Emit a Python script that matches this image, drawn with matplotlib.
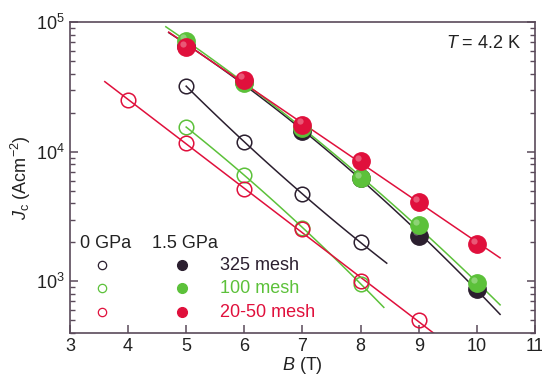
"""
Jc vs B at 4.2 K for different mesh sizes, 0 and 1.5 GPa
"""

import numpy as np
import matplotlib.pyplot as plt
from matplotlib.ticker import LogLocator, NullFormatter

plt.rcParams['font.family'] = ['Liberation Sans', 'DejaVu Sans']
plt.rcParams['mathtext.fontset'] = 'custom'
plt.rcParams['mathtext.rm'] = 'Liberation Sans'
plt.rcParams['mathtext.it'] = 'Liberation Sans:italic'

labels = ['325 mesh', '100 mesh', '20-50 mesh']
colors = ['#2b1f2f', '#5cc13a', '#e0103c']

# 0 GPa (open symbols)
b_open = [[5, 6, 7, 8], [5, 6, 7, 8], [4, 5, 6, 7, 8, 9]]
jc_open = [[32000, 12000, 4700, 2000],
           [15500, 6600, 2600, 960],
           [25000, 11600, 5200, 2520, 1000, 500]]
fit_open = [(5.0, 8.45), (5.0, 8.4), (3.6, 9.4)]
deg_open = [2, 2, 1]

# 1.5 GPa (filled symbols)
b_fill = [[5, 6, 7, 8, 9, 10], [5, 6, 7, 8, 9, 10], [5, 6, 7, 8, 9, 10]]
jc_fill = [[66000, 34400, 14400, 6300, 2250, 880],
           [72000, 34000, 15200, 6300, 2700, 970],
           [64000, 36000, 16200, 8500, 4100, 1950]]
fit_fill = [(4.7, 10.4), (4.65, 10.4), (4.7, 10.4)]
deg_fill = [2, 2, 1]


def fit_line(b, jc, rng, deg):
    p = np.polyfit(b, np.log10(jc), deg)
    x = np.linspace(rng[0], rng[1], 100)
    return x, 10 ** np.polyval(p, x)


if __name__ == "__main__":
    fig = plt.figure(figsize=(5.42, 3.75), dpi=100)
    ax = fig.add_axes([0.129, 0.112, 0.858, 0.829])
    axcol = '#5a4a5a'
    txt = '#222222'
    fs = 13

    for i in range(3):
        x, y = fit_line(b_open[i], jc_open[i], fit_open[i], deg_open[i])
        ax.plot(x, y, color=colors[i], lw=1.1, zorder=2)
        x, y = fit_line(b_fill[i], jc_fill[i], fit_fill[i], deg_fill[i])
        ax.plot(x, y, color=colors[i], lw=1.1, zorder=2)

    for i in range(3):
        ax.plot(b_open[i], jc_open[i], 'o', ms=10.5, mfc='none',
                mec=colors[i], mew=1.1, zorder=3)
        ax.plot(b_fill[i], jc_fill[i], 'o', ms=12.5, mfc=colors[i],
                mec=colors[i], zorder=4 + i)
        # small highlight to mimic the shaded spheres
        ax.plot(np.array(b_fill[i]) - 0.05, np.array(jc_fill[i]) * 1.06, 'o',
                ms=4.5, mfc='white', mec='none', alpha=0.3, zorder=4 + i)

    ax.set_yscale('log')
    ax.set_xlim(3, 11)
    ax.set_ylim(400, 1e5)
    ax.set_xticks(range(3, 12))
    ax.yaxis.set_major_locator(LogLocator(base=10, numticks=10))
    ax.yaxis.set_minor_locator(LogLocator(base=10, subs=np.arange(2, 10), numticks=10))
    ax.yaxis.set_minor_formatter(NullFormatter())

    for s in ax.spines.values():
        s.set_color(axcol)
        s.set_linewidth(1.2)
    ax.tick_params(which='both', direction='in', colors=axcol, labelcolor=txt,
                   labelsize=fs, right=True, top=False)
    ax.tick_params(which='major', length=6, width=1.1)
    ax.tick_params(which='minor', length=3.5, width=1.0)

    ax.set_xlabel('$B$ (T)', fontsize=fs, color=txt, labelpad=0)
    ax.set_ylabel('$J_{\\mathrm{c}}$ (Acm$^{-2}$)', fontsize=fs, color=txt,
                  labelpad=2)

    ax.text(0.97, 0.93, '$T$ = 4.2 K', transform=ax.transAxes, ha='right',
            va='center', fontsize=fs, color=txt)

    # legend drawn by hand
    ax.text(3.17, 1965, '0 GPa', fontsize=fs, color=txt, va='center')
    ax.text(4.41, 1965, '1.5 GPa', fontsize=fs, color=txt, va='center')
    leg_y = [1330, 884, 576]
    for i in range(3):
        ax.plot(3.55, leg_y[i], 'o', ms=6, mfc='none', mec=colors[i], mew=0.9)
        ax.plot(4.93, leg_y[i], 'o', ms=7, mfc=colors[i], mec=colors[i])
        ax.text(5.59, leg_y[i], labels[i], fontsize=fs, color=colors[i], va='center')

    plt.savefig('out.png', dpi=100)
